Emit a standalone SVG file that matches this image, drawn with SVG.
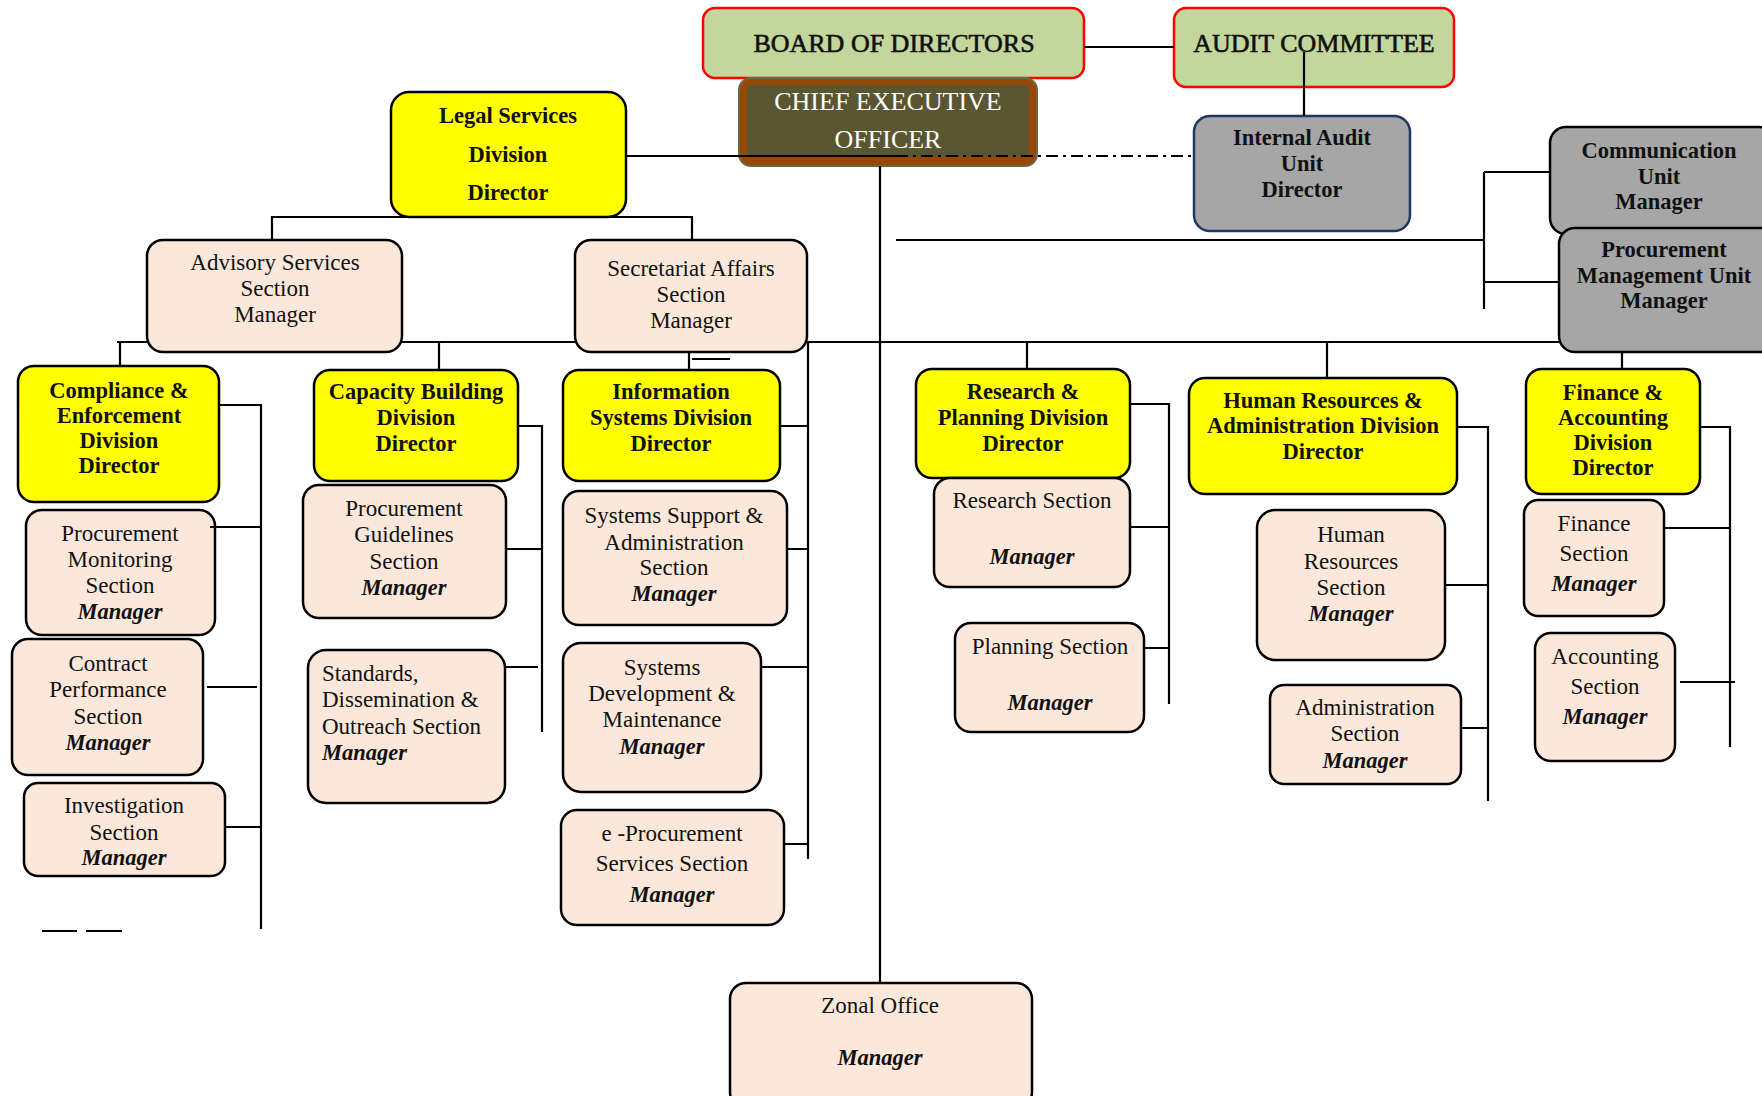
<svg xmlns="http://www.w3.org/2000/svg" width="1762" height="1096" viewBox="0 0 1762 1096">
<style>
text{font-family:"Liberation Serif","DejaVu Serif",serif;text-anchor:middle;fill:#111}
.r{font-size:23px}
.b{font-size:22.5px;font-weight:bold}
.m{font-size:22.5px;font-weight:bold;font-style:italic}
.cap{font-size:26px;stroke:#111;stroke-width:0.6}
.ceo{font-size:26px;fill:#fff}
.top{fill:#c3d69b;stroke:#ff0000;stroke-width:2.5}
.y{fill:#ffff00;stroke:#000;stroke-width:2.5}
.p{fill:#fce8da;stroke:#000;stroke-width:2.5}
.g{fill:#a6a6a6;stroke:#000;stroke-width:2.5}
.ln{fill:none;stroke:#000;stroke-width:2.2}
</style>
<rect width="1762" height="1096" fill="#fff"/>

<g id="board"><rect class="top" x="703" y="8" width="381" height="70" rx="12"/><text class="cap" x="894" y="52">BOARD OF DIRECTORS</text></g>
<g id="audit-committee"><rect class="top" x="1174" y="8" width="280" height="79" rx="12"/><text class="cap" x="1314" y="52">AUDIT COMMITTEE</text></g>
<g id="ceo"><rect x="739" y="78" width="298" height="88" rx="12" fill="#984806" stroke="#6b6847" stroke-width="2"/><rect x="747" y="85" width="282" height="72" rx="4" fill="#5b5632"/><text class="ceo" x="888" y="110">CHIEF EXECUTIVE</text><text class="ceo" x="888" y="148">OFFICER</text></g>
<g id="legal"><rect class="y" x="391" y="92" width="235" height="125" rx="18"/><text class="b" x="508" y="123">Legal Services</text><text class="b" x="508" y="162">Division</text><text class="b" x="508" y="200">Director</text></g>
<g id="internal-audit"><rect x="1194" y="116" width="216" height="115" rx="16" fill="#a6a6a6" stroke="#1f3864" stroke-width="2.5"/><text class="b" x="1302" y="145">Internal Audit</text><text class="b" x="1302" y="171">Unit</text><text class="b" x="1302" y="197">Director</text></g>
<g id="communication"><rect class="g" x="1550" y="127" width="225" height="107" rx="16"/><text class="b" x="1659" y="158">Communication</text><text class="b" x="1659" y="184">Unit</text><text class="b" x="1659" y="209">Manager</text></g>
<g id="procurement-mgmt"><rect class="g" x="1559" y="228" width="220" height="124" rx="16"/><text class="b" x="1664" y="257">Procurement</text><text class="b" x="1664" y="283">Management Unit</text><text class="b" x="1664" y="308">Manager</text></g>
<g id="advisory"><rect class="p" x="147" y="240" width="255" height="112" rx="16"/><text class="r" x="275" y="270">Advisory Services</text><text class="r" x="275" y="296">Section</text><text class="r" x="275" y="322">Manager</text></g>
<g id="secretariat"><rect class="p" x="575" y="240" width="232" height="112" rx="16"/><text class="r" x="691" y="276">Secretariat Affairs</text><text class="r" x="691" y="302">Section</text><text class="r" x="691" y="328">Manager</text></g>

<g id="compliance"><rect class="y" x="18" y="366" width="201" height="136" rx="16"/><text class="b" x="119" y="398">Compliance &amp;</text><text class="b" x="119" y="423">Enforcement</text><text class="b" x="119" y="448">Division</text><text class="b" x="119" y="473">Director</text></g>
<g id="proc-monitoring"><rect class="p" x="26" y="510" width="189" height="125" rx="16"/><text class="r" x="120" y="541">Procurement</text><text class="r" x="120" y="567">Monitoring</text><text class="r" x="120" y="593">Section</text><text class="m" x="120" y="619">Manager</text></g>
<g id="contract"><rect class="p" x="12" y="639" width="191" height="136" rx="16"/><text class="r" x="108" y="671">Contract</text><text class="r" x="108" y="697">Performance</text><text class="r" x="108" y="724">Section</text><text class="m" x="108" y="750">Manager</text></g>
<g id="investigation"><rect class="p" x="24" y="783" width="201" height="93" rx="14"/><text class="r" x="124" y="813">Investigation</text><text class="r" x="124" y="840">Section</text><text class="m" x="124" y="865">Manager</text></g>

<g id="capacity"><rect class="y" x="314" y="370" width="204" height="111" rx="16"/><text class="b" x="416" y="399">Capacity Building</text><text class="b" x="416" y="425">Division</text><text class="b" x="416" y="451">Director</text></g>
<g id="proc-guidelines"><rect class="p" x="303" y="485" width="203" height="133" rx="16"/><text class="r" x="404" y="516">Procurement</text><text class="r" x="404" y="542">Guidelines</text><text class="r" x="404" y="569">Section</text><text class="m" x="404" y="595">Manager</text></g>
<g id="standards"><rect class="p" x="308" y="650" width="197" height="153" rx="18"/><text class="r" x="322" y="681" style="text-anchor:start">Standards,</text><text class="r" x="322" y="707" style="text-anchor:start">Dissemination &amp;</text><text class="r" x="322" y="734" style="text-anchor:start">Outreach Section</text><text class="m" x="322" y="760" style="text-anchor:start">Manager</text></g>

<g id="info-systems"><rect class="y" x="563" y="370" width="217" height="111" rx="16"/><text class="b" x="671" y="399">Information</text><text class="b" x="671" y="425">Systems Division</text><text class="b" x="671" y="451">Director</text></g>
<g id="systems-support"><rect class="p" x="563" y="491" width="224" height="134" rx="16"/><text class="r" x="674" y="523">Systems Support &amp;</text><text class="r" x="674" y="550">Administration</text><text class="r" x="674" y="575">Section</text><text class="m" x="674" y="601">Manager</text></g>
<g id="systems-dev"><rect class="p" x="563" y="643" width="198" height="149" rx="18"/><text class="r" x="662" y="675">Systems</text><text class="r" x="662" y="701">Development &amp;</text><text class="r" x="662" y="727">Maintenance</text><text class="m" x="662" y="754">Manager</text></g>
<g id="e-procurement"><rect class="p" x="561" y="810" width="223" height="115" rx="16"/><text class="r" x="672" y="841">e -Procurement</text><text class="r" x="672" y="871">Services Section</text><text class="m" x="672" y="902">Manager</text></g>

<g id="research-div"><rect class="y" x="916" y="369" width="214" height="109" rx="16"/><text class="b" x="1023" y="399">Research &amp;</text><text class="b" x="1023" y="425">Planning Division</text><text class="b" x="1023" y="451">Director</text></g>
<g id="research-sec"><rect class="p" x="934" y="478" width="196" height="109" rx="16"/><text class="r" x="1032" y="508">Research Section</text><text class="m" x="1032" y="564">Manager</text></g>
<g id="planning-sec"><rect class="p" x="955" y="623" width="189" height="109" rx="16"/><text class="r" x="1050" y="654">Planning Section</text><text class="m" x="1050" y="710">Manager</text></g>

<g id="hr-div"><rect class="y" x="1189" y="378" width="268" height="116" rx="16"/><text class="b" x="1323" y="408">Human Resources &amp;</text><text class="b" x="1323" y="433">Administration Division</text><text class="b" x="1323" y="459">Director</text></g>
<g id="hr-sec"><rect class="p" x="1257" y="510" width="188" height="150" rx="18"/><text class="r" x="1351" y="542">Human</text><text class="r" x="1351" y="569">Resources</text><text class="r" x="1351" y="595">Section</text><text class="m" x="1351" y="621">Manager</text></g>
<g id="admin-sec"><rect class="p" x="1270" y="685" width="191" height="99" rx="14"/><text class="r" x="1365" y="715">Administration</text><text class="r" x="1365" y="741">Section</text><text class="m" x="1365" y="768">Manager</text></g>

<g id="finance-div"><rect class="y" x="1526" y="369" width="174" height="125" rx="16"/><text class="b" x="1613" y="400">Finance &amp;</text><text class="b" x="1613" y="425">Accounting</text><text class="b" x="1613" y="450">Division</text><text class="b" x="1613" y="475">Director</text></g>
<g id="finance-sec"><rect class="p" x="1524" y="500" width="140" height="116" rx="14"/><text class="r" x="1594" y="531">Finance</text><text class="r" x="1594" y="561">Section</text><text class="m" x="1594" y="591">Manager</text></g>
<g id="accounting-sec"><rect class="p" x="1535" y="633" width="140" height="128" rx="16"/><text class="r" x="1605" y="664">Accounting</text><text class="r" x="1605" y="694">Section</text><text class="m" x="1605" y="724">Manager</text></g>

<g id="zonal"><rect class="p" x="730" y="983" width="302" height="125" rx="16"/><text class="r" x="880" y="1013">Zonal Office</text><text class="m" x="880" y="1065">Manager</text></g>

<g id="connectors" class="ln">
<path d="M1084 47H1174"/>
<path d="M1304 52V116"/>
<path d="M626 156H896"/>
<path d="M896 156H1194" stroke-dasharray="12 5 3 5"/>
<path d="M880 166V983"/>
<path d="M896 240H1484"/>
<path d="M1484 172V309M1484 172H1550M1484 282H1559"/>
<path d="M272 240V217H692V240"/>
<path d="M117 342H147M402 342H575M807 342H1559"/>
<path d="M120 342V366M439 342V370M689 352V370M1027 342V369M1327 342V378M1622 352V369"/>
<path d="M692 359H730"/>
<path d="M219 405H261V929M210 527H261M207 687H257M225 827H261"/>
<path d="M42 931H77M86 931H122"/>
<path d="M518 426H542V732M506 549H542M505 667H538"/>
<path d="M780 426H808M808 342V859M787 549H808M761 667H808M784 844H808"/>
<path d="M1130 404H1169V704M1130 527H1169M1144 648H1169"/>
<path d="M1457 427H1488V801M1445 585H1488M1461 728H1488"/>
<path d="M1700 427H1730V747M1664 528H1730M1680 682H1735"/>
</g>
</svg>
